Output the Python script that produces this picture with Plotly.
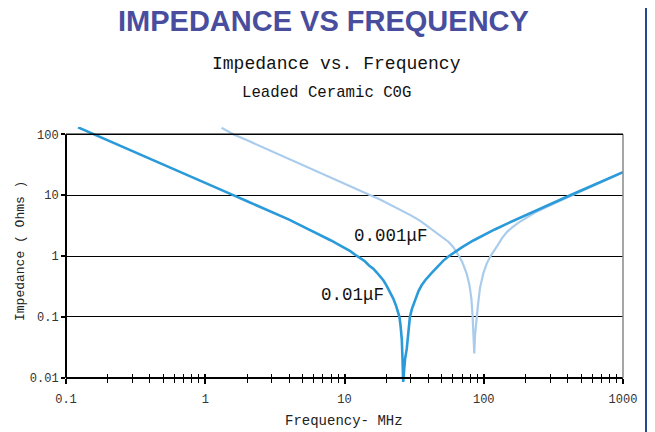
import plotly.graph_objects as go

# ---------------- data ----------------
# 0.01 uF leaded ceramic C0G
f_010 = [0.122, 0.15, 0.2, 0.3, 0.4, 0.5, 0.7, 1.0, 1.5, 2.0, 3.0, 4.0, 5.0, 6.0, 7.0,
         8.0, 9.0, 10.0, 11.0, 12.0, 13.0, 14.0, 15.0, 16.1, 17.0, 18.0, 19.0, 20.0,
         21.0, 22.4, 23.5, 24.3, 24.8, 25.3, 25.8, 26.1, 26.4, 26.7, 27.2, 28.0, 28.8,
         29.5, 30.5, 32.1, 34.0, 35.8, 38.0, 42.3, 46.0, 51.3, 56.0, 62.2, 70.0, 84.2,
         100, 120, 150, 200, 250, 300, 403, 500, 600, 700, 800, 900, 1000]
z_010 = [130, 106, 79.5, 53, 39.8, 31.8, 22.7, 15.9, 10.6, 7.95, 5.28, 3.96, 3.06, 2.51,
         2.11, 1.80, 1.55, 1.36, 1.20, 1.04, 0.93, 0.82, 0.70, 0.62, 0.54, 0.46, 0.40,
         0.33, 0.27, 0.20, 0.15, 0.12, 0.10, 0.07, 0.042, 0.02, 0.0085, 0.012, 0.02,
         0.03, 0.06, 0.10, 0.135, 0.19, 0.265, 0.33, 0.40, 0.53, 0.65, 0.84, 0.99, 1.17,
         1.40, 1.80, 2.23, 2.73, 3.47, 4.70, 5.91, 7.11, 9.6, 11.9, 14.3, 16.7, 19.1,
         21.5, 23.9]

# 0.001 uF leaded ceramic C0G
f_001 = [1.31, 1.6, 2, 2.5, 3, 4, 5, 6.67, 8, 10, 12, 15.2, 18, 22, 26, 30, 35, 42.3,
         47, 52, 56, 60.1, 63, 66.4, 70, 75.3, 79, 81.5, 83.2, 84.5, 85.5, 86.6, 87.8,
         89, 91, 94, 99.3, 105, 112, 124, 135, 146, 160, 180, 210, 240, 300, 400, 491,
         600, 750, 1000]
z_001 = [128, 99, 79.5, 63.5, 53, 39.7, 31.7, 23.8, 19.8, 15.7, 13.1, 10.1, 8.45, 6.74,
         5.53, 4.65, 3.78, 2.72, 2.32, 1.96, 1.70, 1.42, 1.22, 1.0, 0.80, 0.52, 0.33,
         0.2, 0.1, 0.05, 0.025, 0.05, 0.075, 0.1, 0.16, 0.3, 0.52, 0.75, 1.0, 1.42, 1.95,
         2.45, 2.95, 3.6, 4.5, 5.35, 6.8, 9.2, 11.4, 14.0, 17.7, 23.8]

x_tickvals = [0.1, 1, 10, 100, 1000]
x_ticktext = ["0.1", "1", "10", "100", "1000"]
x_minor = [m * d for d in (0.1, 1, 10, 100) for m in range(2, 10)]
y_tickvals = [0.01, 0.1, 1, 10, 100]
y_ticktext = ["0.01", "0.1", "1", "10", "100"]

label_010 = "0.01μF"
label_001 = "0.001μF"

# ---------------- layout helpers ----------------
OFF = 8                        # default page (body) margin of the html page
W, H = 655 - OFF, 432 - OFF
PLOT_L, PLOT_R, PLOT_T, PLOT_B = 66, 623, 127, 385   # plot area in page pixels
ML, MR = PLOT_L - OFF, W - (PLOT_R - OFF)
MT, MB = PLOT_T - OFF, H - (PLOT_B - OFF)
PW, PH = W - ML - MR, H - MT - MB
YR = [-2.12, 2.12]            # log10 range of y
Y_LO = (-2 - YR[0]) / (YR[1] - YR[0])   # paper y of 0.01
Y_HI = (2 - YR[0]) / (YR[1] - YR[0])    # paper y of 100


def px(x):  # page pixel x -> paper
    return (x - OFF - ML) / PW


def py(y):  # page pixel y -> paper
    return (H - MB - (y - OFF)) / PH


MONO = "Liberation Mono, Courier New, monospace"
DARK = "#2B9AD9"
LIGHT = "#A9CCEC"

fig = go.Figure()
fig.add_trace(go.Scatter(x=f_001, y=z_001, mode="lines", name=label_001,
                         line=dict(color=LIGHT, width=2.2), xaxis="x", yaxis="y"))
fig.add_trace(go.Scatter(x=f_010, y=z_010, mode="lines", name=label_010,
                         line=dict(color=DARK, width=2.6), xaxis="x2", yaxis="y"))

common_x = dict(type="log", range=[-1, 3], showgrid=False, zeroline=False,
                tickvals=x_tickvals, anchor="free", position=Y_LO)

fig.update_layout(
    width=W, height=H, margin=dict(l=ML, r=MR, t=MT, b=MB),
    paper_bgcolor="white", plot_bgcolor="white", showlegend=False,
    xaxis=dict(**common_x, ticktext=x_ticktext, ticks="outside", ticklen=5, tickwidth=2,
               tickcolor="black", showline=True, linecolor="black", linewidth=2,
               tickfont=dict(family=MONO, size=12, color="#333"), ticklabelstandoff=5,
               minor=dict(tickvals=x_minor, ticks="outside", ticklen=4, tickwidth=1,
                          tickcolor="black")),
    xaxis2=dict(**common_x, overlaying="x", ticks="inside", ticklen=4, tickwidth=2,
                tickcolor="black", showline=False, showticklabels=False,
                minor=dict(tickvals=x_minor, ticks="inside", ticklen=4, tickwidth=1,
                           tickcolor="black")),
    yaxis=dict(type="log", range=YR, tickvals=y_tickvals, ticktext=y_ticktext,
               showgrid=True, gridcolor="black", gridwidth=1, zeroline=False,
               showline=False, ticks="outside", ticklen=4, tickwidth=1.5,
               tickcolor="black", tickfont=dict(family=MONO, size=12, color="#333")),
    shapes=[
        # left axis line (0.01 .. 100)
        dict(type="line", xref="paper", yref="paper", x0=0, x1=0, y0=Y_LO, y1=Y_HI,
             line=dict(color="black", width=2)),
        # right border
        dict(type="line", xref="paper", yref="paper", x0=1, x1=1, y0=Y_LO, y1=Y_HI,
             line=dict(color="#888", width=1.5)),
        # top border
        dict(type="line", xref="paper", yref="paper", x0=0, x1=1, y0=Y_HI, y1=Y_HI,
             line=dict(color="black", width=1.5)),
        # blue slide bar on the right
        dict(type="rect", xref="paper", yref="paper", x0=px(645), x1=px(660),
             y0=py(440), y1=py(-5), fillcolor="#234A8E", line=dict(width=0)),
    ],
    annotations=[
        dict(text="<b>IMPEDANCE VS FREQUENCY</b>", xref="paper", yref="paper",
             x=px(323.5), y=py(21.5), showarrow=False, xanchor="center", yanchor="middle",
             font=dict(family="Liberation Sans, Arial, sans-serif", size=29, color="#484D9E")),
        dict(text="Impedance vs. Frequency", xref="paper", yref="paper",
             x=px(336.7), y=py(64), showarrow=False, xanchor="center", yanchor="middle",
             font=dict(family=MONO, size=18, color="#111")),
        dict(text="Leaded Ceramic C0G", xref="paper", yref="paper",
             x=px(326.7), y=py(93), showarrow=False, xanchor="center", yanchor="middle",
             font=dict(family=MONO, size=15.7, color="#111")),
        dict(text="Frequency- MHz", xref="paper", yref="paper",
             x=px(344), y=py(421), showarrow=False, xanchor="center", yanchor="middle",
             font=dict(family=MONO, size=14, color="#222")),
        dict(text="Impedance ( Ohms )", xref="paper", yref="paper", textangle=-90,
             x=px(20), y=py(251), showarrow=False, xanchor="center", yanchor="middle",
             font=dict(family=MONO, size=13, color="#222")),
        dict(text=label_001, xref="paper", yref="paper",
             x=px(390.5), y=py(236), showarrow=False, xanchor="center", yanchor="middle",
             font=dict(family=MONO, size=17.5, color="#111")),
        dict(text=label_010, xref="paper", yref="paper",
             x=px(352), y=py(295), showarrow=False, xanchor="center", yanchor="middle",
             font=dict(family=MONO, size=17.5, color="#111")),
    ],
)

fig.write_html("out.html")
